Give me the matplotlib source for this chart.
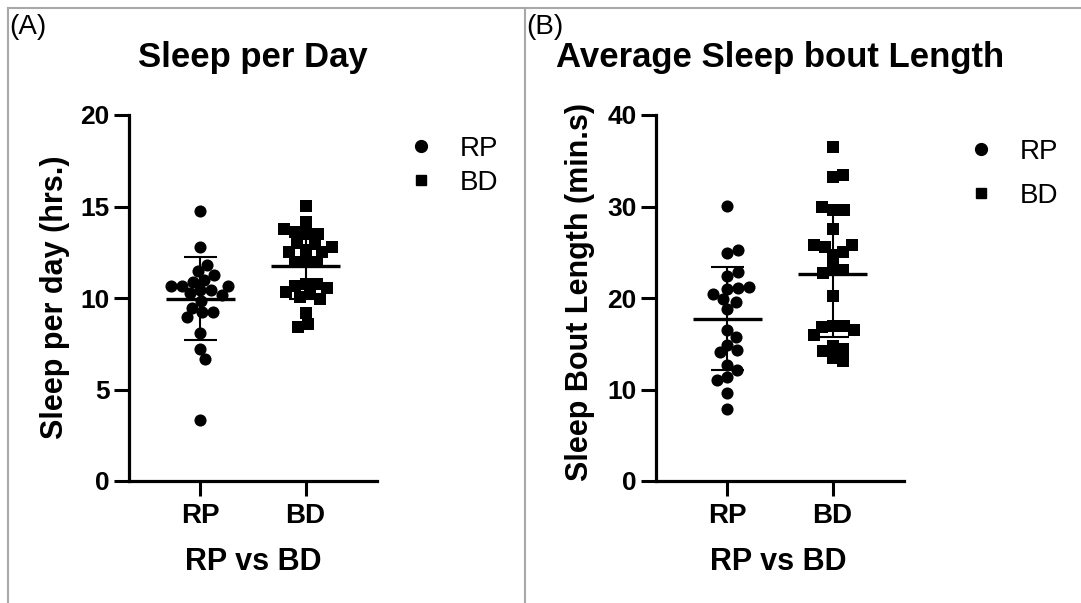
import matplotlib
matplotlib.use("Agg")
import matplotlib.pyplot as plt
import numpy as np
from matplotlib.lines import Line2D

plt.rcParams['font.family'] = ['Liberation Sans', 'DejaVu Sans']

# категории и данные
groups = ['RP', 'BD']

sleep_rp = [14.77, 12.81, 11.83, 11.50, 11.28, 10.99, 10.86, 10.68, 10.68, 10.68,
            10.41, 10.41, 10.25, 10.19, 9.81, 9.48, 9.21, 9.21, 8.94, 8.08,
            7.19, 6.65, 3.32]
sleep_bd = [15.04, 14.13, 13.77, 13.59, 13.52, 13.52, 12.95, 12.77, 12.99, 12.64,
            12.50, 12.50, 11.99, 11.99, 11.99, 10.77, 10.77, 10.68, 10.52, 10.23,
            10.32, 10.04, 9.97, 9.17, 8.41, 8.59]

bout_rp = [30.07, 24.97, 25.27, 22.79, 22.36, 21.12, 21.01, 21.20, 20.47, 19.89,
           19.52, 18.80, 16.54, 15.75, 14.91, 14.36, 14.07, 12.73, 12.18, 11.38,
           11.09, 9.64, 7.82]
bout_bd = [36.47, 33.45, 33.26, 29.99, 29.63, 29.63, 27.56, 25.81, 25.81, 25.56,
           25.08, 24.72, 23.38, 23.09, 22.73, 20.17, 16.90, 16.54, 16.84, 16.98,
           16.00, 14.80, 14.44, 14.18, 13.09, 13.46]

W, H = 1081, 603


def fx(px):
    return px / W


def fy(py):
    return 1 - py / H


def swarm(ax, vals, d):
    # раскладка точек как в beeswarm, считаем в пикселях
    y_px = ax.transData.transform(np.column_stack([np.zeros(len(vals)), vals]))[:, 1]
    px_per_x = ax.transData.transform((1, 0))[0] - ax.transData.transform((0, 0))[0]
    order = np.argsort(np.abs(vals - np.median(vals)))
    placed = []
    offs = np.zeros(len(vals))
    for k in order:
        y = y_px[k]
        near = [(x, yy) for x, yy in placed if abs(yy - y) < d]
        cands = [0.0]
        for x, yy in near:
            dx = np.sqrt(d * d - (yy - y) ** 2)
            cands += [x + dx, x - dx]
        cands.sort(key=abs)
        for c in cands:
            if all((c - x) ** 2 + (y - yy) ** 2 >= d * d - 1e-6 for x, yy in near):
                break
        offs[k] = c
        placed.append((c, y))
    return offs / px_per_x


def panel(left_px, rp, bd, ymax, ystep, legend_left, legend_y, spacing):
    ax = fig.add_axes([fx(left_px), fy(481), fx(248), 366 / H])
    ax.set_xlim(-0.68, 1.68)
    ax.set_ylim(0, ymax)
    ax.set_yticks(np.arange(0, ymax + 1, ystep))
    ax.set_xticks([0, 1])
    ax.set_xticklabels(groups)
    for s in ['top', 'right']:
        ax.spines[s].set_visible(False)
    for s in ['left', 'bottom']:
        ax.spines[s].set_linewidth(2.3)
    ax.tick_params(width=2.2, length=11, labelsize=19, pad=3)
    ax.tick_params(axis='x', labelsize=20, pad=5)
    for lab in ax.get_xticklabels() + ax.get_yticklabels():
        lab.set_fontweight('bold')

    for i, (vals, mk) in enumerate(zip([rp, bd], ['o', 's'])):
        vals = np.array(vals)
        offs = swarm(ax, vals, 11.0)
        ax.scatter(i + offs, vals, marker=mk, s=76 if mk == 'o' else 68, c='black', linewidths=0, zorder=3)
        m = vals.mean()
        sd = vals.std(ddof=1)
        ax.hlines(m, i - 0.33, i + 0.33, color='black', lw=2.4, zorder=4)
        ax.vlines(i, m - sd, m + sd, color='black', lw=1.5, zorder=4)
        ax.hlines([m - sd, m + sd], i - 0.16, i + 0.16, color='black', lw=1.5, zorder=4)

    handles = [Line2D([], [], marker='o', ls='', color='black', ms=8.5),
               Line2D([], [], marker='s', ls='', color='black', ms=7.5)]
    ax.legend(handles, groups, loc='center left', bbox_to_anchor=(fx(legend_left), fy(legend_y)),
              bbox_transform=fig.transFigure, frameon=False, fontsize=20, handlelength=0.8,
              handletextpad=1.0, borderpad=0, borderaxespad=0, labelspacing=spacing)
    return ax


fig = plt.figure(figsize=(W / 100, H / 100), dpi=100)

panel(129, sleep_rp, sleep_bd, 20, 5, 410, 166, 0.3)
panel(656, bout_rp, bout_bd, 40, 10, 970, 174, 0.65)

# заголовки и подписи
fig.text(fx(253), fy(57), 'Sleep per Day', fontsize=25, fontweight='bold', ha='center', va='center')
fig.text(fx(780), fy(57), 'Average Sleep bout Length', fontsize=25, fontweight='bold', ha='center', va='center')
fig.text(fx(55), fy(297), 'Sleep per day (hrs.)', fontsize=22, fontweight='bold', rotation=90, ha='center', va='center')
fig.text(fx(580), fy(292), 'Sleep Bout Length (min.s)', fontsize=22, fontweight='bold', rotation=90, ha='center', va='center')
fig.text(fx(253), fy(562), 'RP vs BD', fontsize=22, fontweight='bold', ha='center', va='center')
fig.text(fx(778), fy(562), 'RP vs BD', fontsize=22, fontweight='bold', ha='center', va='center')
fig.text(fx(9), fy(27), '(A)', fontsize=20, ha='left', va='center')
fig.text(fx(526), fy(27), '(B)', fontsize=20, ha='left', va='center')

# серые рамки
gray = '#a8a8a8'
fig.add_artist(Line2D([fx(8), 1], [fy(8), fy(8)], transform=fig.transFigure, color=gray, lw=1.5))
fig.add_artist(Line2D([fx(8), fx(8)], [0, fy(8)], transform=fig.transFigure, color=gray, lw=1.5))
fig.add_artist(Line2D([fx(525), fx(525)], [0, fy(8)], transform=fig.transFigure, color=gray, lw=1.5))

fig.savefig('out.png', dpi=100)
